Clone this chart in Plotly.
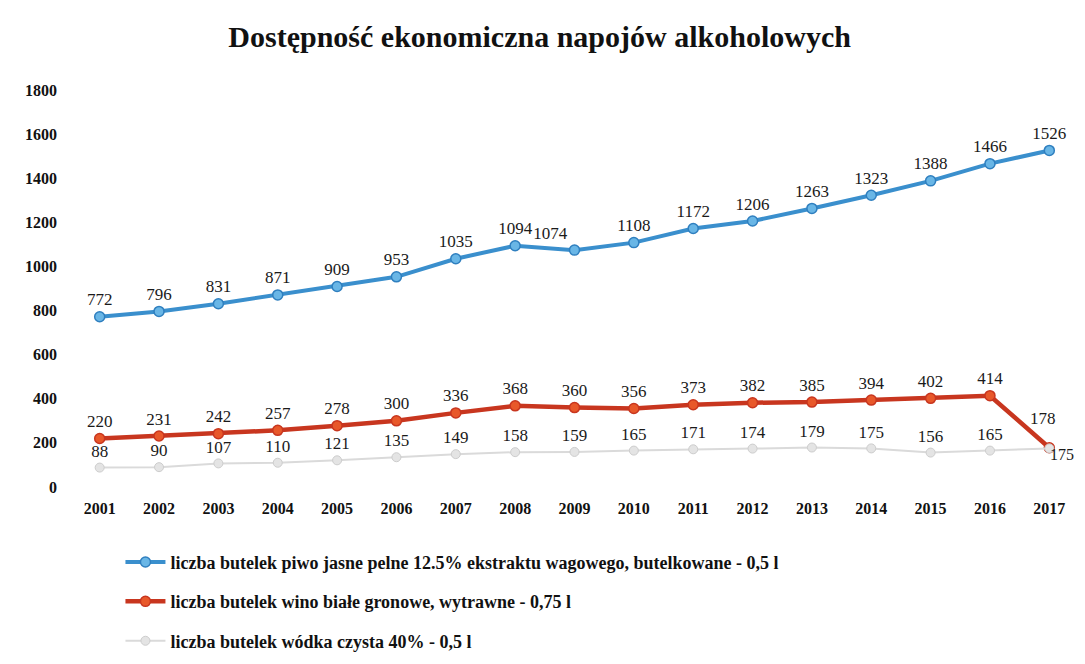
import plotly.graph_objects as go

years = [str(y) for y in range(2001, 2018)]
beer = [772, 796, 831, 871, 909, 953, 1035, 1094, 1074, 1108, 1172, 1206, 1263, 1323, 1388, 1466, 1526]
wine = [220, 231, 242, 257, 278, 300, 336, 368, 360, 356, 373, 382, 385, 394, 402, 414, 178]
vodka = [88, 90, 107, 110, 121, 135, 149, 158, 159, 165, 171, 174, 179, 175, 156, 165, 175]

names = [
    "liczba butelek piwo jasne pelne 12.5% ekstraktu wagowego, butelkowane - 0,5 l",
    "liczba butelek wino białe gronowe, wytrawne - 0,75 l",
    "liczba butelek wódka czysta 40% - 0,5 l",
]

serif = "Liberation Serif"
fig = go.Figure()

beer_pos = ["top center"] * 17
beer_pos[8] = "top left"
wine_pos = ["top center"] * 17
vodka_pos = ["top center"] * 17

label_font = dict(family=serif, size=17, color="#1a1a1a")

# last-point labels of wine and vodka are placed as annotations (offset like the original)
wine_text = [str(v) for v in wine[:-1]] + [""]
vodka_text = [str(v) for v in vodka[:-1]] + [""]

fig.add_trace(go.Scatter(
    x=years, y=beer, name=names[0], legendgroup="a", cliponaxis=False,
    mode="lines+markers+text", text=[str(v) for v in beer], textposition=beer_pos,
    textfont=label_font,
    line=dict(color="#3a8fcd", width=4),
    marker=dict(size=10, color="#69b6e6", line=dict(color="#2f7fbf", width=1.5)),
))
fig.add_trace(go.Scatter(
    x=years, y=wine, name=names[1], legendgroup="b", cliponaxis=False,
    mode="lines+markers+text", text=wine_text, textposition=wine_pos,
    textfont=label_font,
    line=dict(color="#c8361f", width=4.5),
    marker=dict(size=10, color="#e8582a", line=dict(color="#c8361f", width=1.5)),
))
fig.add_trace(go.Scatter(
    x=years, y=vodka, name=names[2], legendgroup="c", cliponaxis=False,
    mode="lines+markers+text", text=vodka_text, textposition=vodka_pos,
    textfont=label_font,
    line=dict(color="#dadada", width=2),
    marker=dict(size=9, color="#e4e4e4", line=dict(color="#cdcdcd", width=1)),
))

last = len(years) - 1  # category index of the last year
fig.add_annotation(x=last, y=wine[-1], text=str(wine[-1]), showarrow=False,
                   xanchor="center", yanchor="bottom", xshift=-6, yshift=18,
                   font=label_font)
fig.add_annotation(x=last, y=vodka[-1], text=str(vodka[-1]), showarrow=False,
                   xanchor="left", yanchor="middle", xshift=-1, yshift=-6,
                   font=dict(family=serif, size=16, color="#1a1a1a"))

fig.update_layout(
    width=1085, height=664,
    paper_bgcolor="white", plot_bgcolor="white",
    margin=dict(l=62, r=14, t=82, b=167),
    title=dict(text="<b>Dostępność ekonomiczna napojów alkoholowych</b>",
               x=0.49, xanchor="center", y=1 - 28 / 664, yanchor="middle",
               font=dict(family=serif, size=30, color="#111")),
    font=dict(family=serif, color="#111"),
    xaxis=dict(type="category", showgrid=False, showline=False, zeroline=False,
               ticks="", ticklabelstandoff=10, automargin=False,
               tickfont=dict(family=serif, size=16, color="#111", weight="bold"),
               range=[-0.5, 16.5]),
    yaxis=dict(range=[0, 1800], dtick=200, showgrid=False, showline=False, zeroline=False,
               ticks="", ticklabelstandoff=12, automargin=False,
               tickfont=dict(family=serif, size=16, color="#111", weight="bold"),
               tickformat="d"),
    showlegend=True,
    legend=dict(orientation="v", x=0.05, xanchor="left", y=-0.143, yanchor="top",
                font=dict(family=serif, size=18, color="#111", weight="bold"),
                tracegroupgap=13, itemwidth=40),
)

fig.write_html("out.html")
